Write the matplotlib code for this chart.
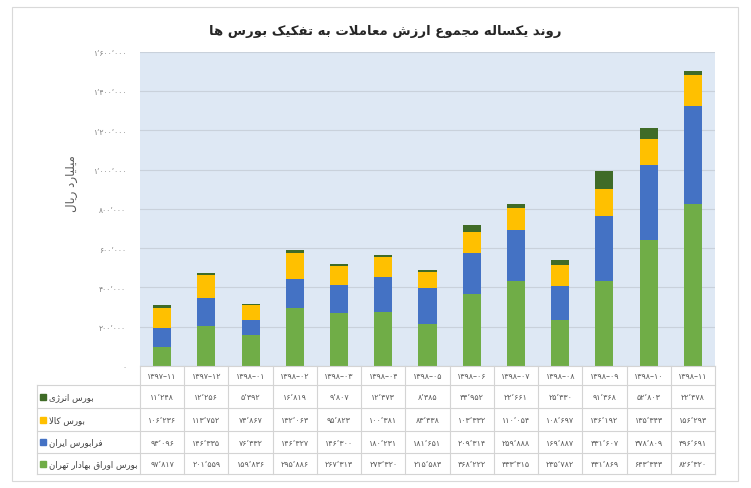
import matplotlib
matplotlib.use("Agg")
import matplotlib.pyplot as plt
from matplotlib.patches import Rectangle
import numpy as np

# ---------------- data ----------------
periods = ["1397-11", "1397-12", "1398-01", "1398-02", "1398-03", "1398-04", "1398-05",
           "1398-06", "1398-07", "1398-08", "1398-09", "1398-10", "1398-11"]
tehran = [97817, 201559, 159836, 295886, 267313, 273320, 215583, 368222, 433315, 235782, 431869, 643343, 826320]
farabourse = [93096, 146335, 76332, 146327, 146300, 180231, 181651, 209314, 259888, 169887, 331607, 378809, 496691]
kala = [106236, 113752, 74867, 132063, 95823, 100381, 83438, 103332, 110054, 108697, 136192, 135343, 156293]
energy = [11248, 12256, 5392, 16819, 9807, 12373, 8385, 34952, 22661, 25330, 91368, 52803, 22478]

series_names = ["بورس اوراق بهادار تهران", "فرابورس ایران", "بورس کالا", "بورس انرژی"]
series_vals = [tehran, farabourse, kala, energy]
series_colors = ["#70AD47", "#4472C4", "#FFC000", "#3F6B27"]
title_text = "روند یکساله مجموع ارزش معاملات به تفکیک بورس ها"
ylabel_text = "میلیارد ریال"
yticks = [0, 200000, 400000, 600000, 800000, 1000000, 1200000, 1400000, 1600000]

# ---------------- simple Persian shaping ----------------
FORMS = {
    'ا': ('\uFE8D', '\uFE8E', None, None),
    'آ': ('\uFE81', '\uFE82', None, None),
    'ب': ('\uFE8F', '\uFE90', '\uFE91', '\uFE92'),
    'پ': ('\uFB56', '\uFB57', '\uFB58', '\uFB59'),
    'ت': ('\uFE95', '\uFE96', '\uFE97', '\uFE98'),
    'ث': ('\uFE99', '\uFE9A', '\uFE9B', '\uFE9C'),
    'ج': ('\uFE9D', '\uFE9E', '\uFE9F', '\uFEA0'),
    'چ': ('\uFB7A', '\uFB7B', '\uFB7C', '\uFB7D'),
    'ح': ('\uFEA1', '\uFEA2', '\uFEA3', '\uFEA4'),
    'خ': ('\uFEA5', '\uFEA6', '\uFEA7', '\uFEA8'),
    'د': ('\uFEA9', '\uFEAA', None, None),
    'ذ': ('\uFEAB', '\uFEAC', None, None),
    'ر': ('\uFEAD', '\uFEAE', None, None),
    'ز': ('\uFEAF', '\uFEB0', None, None),
    'ژ': ('\uFB8A', '\uFB8B', None, None),
    'س': ('\uFEB1', '\uFEB2', '\uFEB3', '\uFEB4'),
    'ش': ('\uFEB5', '\uFEB6', '\uFEB7', '\uFEB8'),
    'ص': ('\uFEB9', '\uFEBA', '\uFEBB', '\uFEBC'),
    'ض': ('\uFEBD', '\uFEBE', '\uFEBF', '\uFEC0'),
    'ط': ('\uFEC1', '\uFEC2', '\uFEC3', '\uFEC4'),
    'ظ': ('\uFEC5', '\uFEC6', '\uFEC7', '\uFEC8'),
    'ع': ('\uFEC9', '\uFECA', '\uFECB', '\uFECC'),
    'غ': ('\uFECD', '\uFECE', '\uFECF', '\uFED0'),
    'ف': ('\uFED1', '\uFED2', '\uFED3', '\uFED4'),
    'ق': ('\uFED5', '\uFED6', '\uFED7', '\uFED8'),
    'ک': ('\uFB8E', '\uFB8F', '\uFB90', '\uFB91'),
    'گ': ('\uFB92', '\uFB93', '\uFB94', '\uFB95'),
    'ل': ('\uFEDD', '\uFEDE', '\uFEDF', '\uFEE0'),
    'م': ('\uFEE1', '\uFEE2', '\uFEE3', '\uFEE4'),
    'ن': ('\uFEE5', '\uFEE6', '\uFEE7', '\uFEE8'),
    'ه': ('\uFEE9', '\uFEEA', '\uFEEB', '\uFEEC'),
    'و': ('\uFEED', '\uFEEE', None, None),
    'ی': ('\uFBFC', '\uFBFD', '\uFBFE', '\uFBFF'),
}


def dual(c):
    return c in FORMS and FORMS[c][2] is not None


def shape(text):
    out = []
    chars = list(text)
    i = 0
    n = len(chars)
    while i < n:
        c = chars[i]
        prev = chars[i - 1] if i > 0 else None
        joins_prev = c in FORMS and prev is not None and dual(prev)
        if c == 'ل' and i + 1 < n and chars[i + 1] == 'ا':
            out.append('\uFEFC' if joins_prev else '\uFEFB')
            i += 2
            continue
        if c not in FORMS:
            out.append(c)
            i += 1
            continue
        nxt = chars[i + 1] if i + 1 < n else None
        joins_next = dual(c) and nxt is not None and nxt in FORMS
        iso, fin, ini, med = FORMS[c]
        if joins_prev and joins_next:
            out.append(med)
        elif joins_prev:
            out.append(fin)
        elif joins_next:
            out.append(ini)
        else:
            out.append(iso)
        i += 1
    return ''.join(reversed(out))


PDIG = str.maketrans("0123456789-", "۰۱۲۳۴۵۶۷۸۹–")


def fa_num(v):
    return f"{v:,}".replace(",", "٬").translate(PDIG)


def fa_period(p):
    return p.translate(PDIG)


# ---------------- figure ----------------
W, H = 751, 489
fig = plt.figure(figsize=(W / 100, H / 100), dpi=100)
fig.patch.set_facecolor("white")

FONT = ["DejaVu Sans"]

# outer border
fig.patches.append(Rectangle((12 / W, 1 - 482 / H), (738 - 12) / W, (482 - 8) / H,
                             transform=fig.transFigure, fill=False, edgecolor="#D9D9D9", lw=0.8))

px_left, px_right, px_top, px_bottom = 140, 715, 52.6, 367
ax = fig.add_axes([px_left / W, 1 - px_bottom / H, (px_right - px_left) / W, (px_bottom - px_top) / H])
ax.set_facecolor("#DEE8F4")
for s in ax.spines.values():
    s.set_visible(False)
ax.set_xlim(-0.5, len(periods) - 0.5)
ax.set_ylim(0, 1600000)
ax.set_yticks(yticks)
ax.set_yticklabels([fa_num(v) for v in yticks], fontsize=5.5, color="#7F7F7F", family=FONT)
ax.tick_params(axis="y", length=0, pad=10)
ax.set_xticks([])
ax.grid(axis="y", color="#C9D1DB", lw=0.8)
ax.set_axisbelow(True)

x = np.arange(len(periods))
bottom = np.zeros(len(periods))
for vals, col in zip(series_vals, series_colors):
    ax.bar(x, vals, width=0.41, bottom=bottom, color=col, zorder=3)
    bottom += np.array(vals)

fig.text(385 / W, 1 - 31 / H, shape(title_text), ha="center", va="center",
         fontsize=9.5, fontweight="bold", color="#262626", family=FONT)
fig.text(72 / W, 1 - 184 / H, shape(ylabel_text), ha="center", va="center", rotation=90,
         fontsize=8.5, color="#595959", family=FONT)

# ---------------- data table ----------------
tax = fig.add_axes([0, 0, 1, 1], facecolor="none")
tax.set_xlim(0, W)
tax.set_ylim(H, 0)
tax.axis("off")

lab_left = 37
col_w = (px_right - px_left) / len(periods)
row_edges = [367, 386, 409, 432, 454, 475]
gc = "#D4D4D4"
tax.plot([px_left, px_right], [row_edges[0], row_edges[0]], color=gc, lw=0.8)
for y in row_edges[1:]:
    tax.plot([lab_left, px_right], [y, y], color=gc, lw=0.8)
for k in range(len(periods) + 1):
    xx = px_left + k * col_w
    tax.plot([xx, xx], [row_edges[0], row_edges[-1]], color=gc, lw=0.8)
tax.plot([lab_left, lab_left], [row_edges[1], row_edges[-1]], color=gc, lw=0.8)

for k, p in enumerate(periods):
    tax.text(px_left + (k + 0.5) * col_w, (row_edges[0] + row_edges[1]) / 2, fa_period(p),
             ha="center", va="center", fontsize=5.8, color="#595959", family=FONT)

row_order = [3, 2, 1, 0]
for r, si in enumerate(row_order):
    yc = (row_edges[r + 1] + row_edges[r + 2]) / 2
    tax.add_patch(Rectangle((40, yc - 3), 6, 6, color=series_colors[si]))
    tax.text(49, yc, shape(series_names[si]), ha="left", va="center", fontsize=6.2,
             color="#404040", family=FONT)
    for k, v in enumerate(series_vals[si]):
        tax.text(px_left + (k + 0.5) * col_w, yc, fa_num(v), ha="center", va="center",
                 fontsize=5.8, color="#595959", family=FONT)

fig.savefig("out.png", dpi=100, facecolor="white")
